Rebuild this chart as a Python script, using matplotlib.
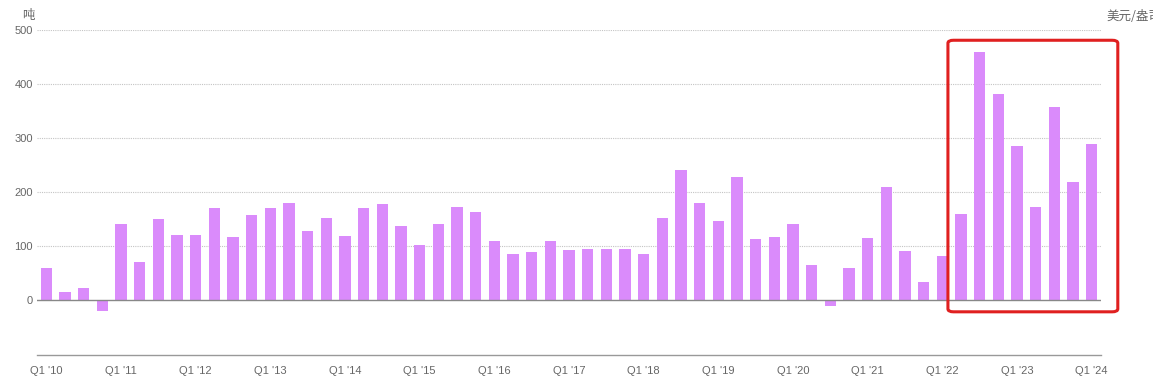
import numpy as np
import matplotlib.pyplot as plt
from matplotlib.patches import FancyBboxPatch

# quarterly values, Q1 2010 .. Q1 2024
quarters = [f"Q{q} '{y:02d}" for y in range(10, 25) for q in range(1, 5)][:57]
values = [60, 14, 23, -20, 141, 70, 149, 120, 121, 170,
          117, 157, 170, 180, 128, 151, 119, 170, 177, 137,
          102, 141, 172, 163, 110, 85, 88, 110, 92, 95,
          95, 94, 85, 152, 240, 179, 147, 228, 113, 117,
          140, 64, -12, 60, 115, 209, 90, 34, 81, 159,
          460, 382, 286, 173, 357, 219, 289]
yticks = [0, 100, 200, 300, 400, 500]

bar_color = '#DA8BFB'
grey = '#666666'
cjk = ['Noto Sans CJK SC', 'DejaVu Sans']

fig = plt.figure(figsize=(11.53, 3.78), dpi=100)
ax = fig.add_axes([37/1153, 1 - 355/378, (1101-37)/1153, (355-30)/378])

x = np.arange(len(values))
ax.bar(x, values, width=0.6, color=bar_color, zorder=2)

ax.set_xlim(-0.5, len(values) - 0.5)
ax.set_ylim(-102, 500)

ax.set_yticks(yticks)
ax.set_yticklabels([str(v) for v in yticks], fontsize=8, color=grey,
                   family='Liberation Sans')
for v in yticks[1:]:
    ax.axhline(v, color='#c4c4c4', lw=0.8, ls=(0, (1, 1)), zorder=1)
ax.axhline(0, color='#888888', lw=1.0, zorder=3)

xt = x[::4]
ax.set_xticks(xt)
ax.set_xticklabels([quarters[i] for i in xt], fontsize=8, color=grey,
                   family='Liberation Sans')
ax.tick_params(axis='both', length=0, pad=3)
ax.tick_params(axis='x', pad=8)

for s in ['top', 'right', 'left']:
    ax.spines[s].set_visible(False)
ax.spines['bottom'].set_color('#999999')
ax.spines['bottom'].set_linewidth(1.0)

fig.text(28/1153, 1 - 16/378, '吨', fontsize=9, color=grey, family=cjk,
         ha='center', va='center')
fig.text(1106/1153, 1 - 16/378, '美元/盎司', fontsize=9, color=grey,
         family=cjk, ha='left', va='center')

# highlight box around the recent quarters
box = FancyBboxPatch((48.3, -22), 57.4 - 48.3, 481 + 22,
                     boxstyle='round,pad=0,rounding_size=0.3',
                     fill=False, ec='#E02020', lw=2.2, clip_on=False,
                     zorder=4, mutation_aspect=18)
ax.add_patch(box)

fig.savefig('out.png', dpi=100)
